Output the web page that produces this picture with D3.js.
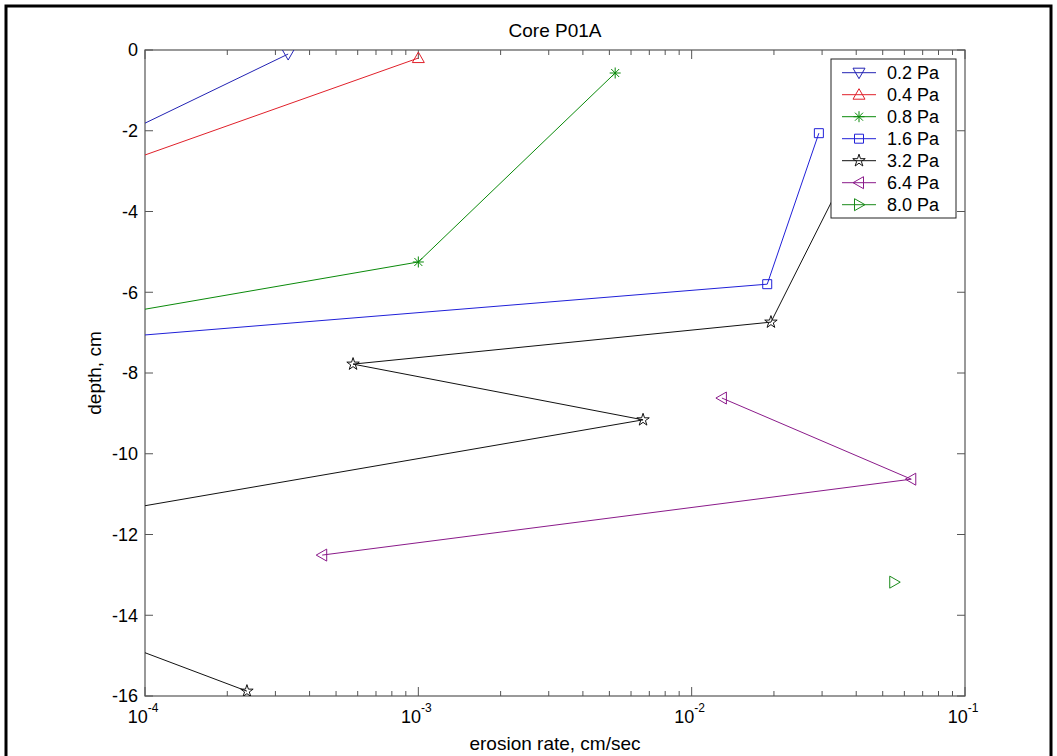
<!DOCTYPE html>
<html>
<head>
<meta charset="utf-8">
<script src="https://cdn.jsdelivr.net/npm/d3@7.9.0/dist/d3.min.js"></script>
<style>
  body { margin: 0; background: #fff; }
  svg { display: block; font-family: "Liberation Sans", Arial, sans-serif; }
</style>
</head>
<body>
<svg id="chart" width="1057" height="756"></svg>
<script>
// series (points outside the axes are estimated from the clipped lines)
const pressures = ["0.2 Pa", "0.4 Pa", "0.8 Pa", "1.6 Pa", "3.2 Pa", "6.4 Pa", "8.0 Pa"];
const colors = ["#2323b4", "#e0202a", "#0a8a0a", "#2020d8", "#111111", "#8a1a8a", "#1a8a1a"];
const symbols = ["tridown", "triup", "asterisk", "square", "star", "trileft", "triright"];

const rate02 = [3.34e-4, 1e-5];
const depth02 = [-0.1, -5.08];
const rate04 = [1e-3, 1e-5];
const depth04 = [-0.2, -5.0];
const rate08 = [5.25e-3, 1e-3, 1e-5];
const depth08 = [-0.57, -5.25, -7.59];
const rate16 = [0.0292, 0.0189, 1e-5];
const depth16 = [-2.06, -5.8, -7.61];
const rate32 = [0.037, 0.0195, 5.77e-4, 6.64e-3, 1.05e-5, 2.36e-4];
const depth32 = [-3.0, -6.74, -7.78, -9.16, -12.43, -15.88];
const rate64 = [0.0129, 0.0636, 4.45e-4];
const depth64 = [-8.62, -10.63, -12.51];
const rate80 = [0.0551];
const depth80 = [-13.18];

const rates = [rate02, rate04, rate08, rate16, rate32, rate64, rate80];
const depths = [depth02, depth04, depth08, depth16, depth32, depth64, depth80];

const xDecades = [1e-4, 1e-3, 1e-2, 1e-1];
const xDecadeExp = ["-4", "-3", "-2", "-1"];
const yTicks = [0, -2, -4, -6, -8, -10, -12, -14, -16];

const svg = d3.select("#chart");
const plotLeft = 145, plotRight = 965, plotTop = 50, plotBottom = 696;

const x = d3.scaleLog().domain([1e-4, 1e-1]).range([plotLeft, plotRight]);
const y = d3.scaleLinear().domain([-16, 0]).range([plotBottom, plotTop]);

// outer frame
svg.append("rect")
  .attr("x", 6).attr("y", 6).attr("width", 1045).attr("height", 770)
  .attr("fill", "none").attr("stroke", "#000").attr("stroke-width", 3);

svg.append("defs").append("clipPath").attr("id", "plotClip")
  .append("rect").attr("x", plotLeft).attr("y", plotTop)
  .attr("width", plotRight - plotLeft).attr("height", plotBottom - plotTop);

const axisColor = "#555";

// box
svg.append("rect")
  .attr("x", plotLeft).attr("y", plotTop)
  .attr("width", plotRight - plotLeft).attr("height", plotBottom - plotTop)
  .attr("fill", "none").attr("stroke", axisColor).attr("stroke-width", 1.2);

// x ticks (major + minor), bottom and top
const minor = [];
for (let d = 0; d < 3; d++) {
  for (let k = 2; k <= 9; k++) minor.push(xDecades[d] * k);
}
const tickG = svg.append("g").attr("stroke", axisColor).attr("stroke-width", 1);
xDecades.forEach(v => {
  tickG.append("line").attr("x1", x(v)).attr("x2", x(v)).attr("y1", plotBottom).attr("y2", plotBottom - 9);
  tickG.append("line").attr("x1", x(v)).attr("x2", x(v)).attr("y1", plotTop).attr("y2", plotTop + 9);
});
minor.forEach(v => {
  tickG.append("line").attr("x1", x(v)).attr("x2", x(v)).attr("y1", plotBottom).attr("y2", plotBottom - 5);
  tickG.append("line").attr("x1", x(v)).attr("x2", x(v)).attr("y1", plotTop).attr("y2", plotTop + 5);
});
yTicks.forEach(v => {
  tickG.append("line").attr("x1", plotLeft).attr("x2", plotLeft + 8).attr("y1", y(v)).attr("y2", y(v));
  tickG.append("line").attr("x1", plotRight).attr("x2", plotRight - 8).attr("y1", y(v)).attr("y2", y(v));
});

// x tick labels 10^n
xDecades.forEach((v, i) => {
  const t = svg.append("text")
    .attr("x", x(v) - 2).attr("y", 723)
    .attr("text-anchor", "middle").attr("font-size", 18).attr("fill", "#000");
  t.append("tspan").text("10");
  t.append("tspan").attr("dy", -11).attr("font-size", 12).text(xDecadeExp[i]);
});

// y tick labels
yTicks.forEach(v => {
  svg.append("text")
    .attr("x", plotLeft - 7).attr("y", y(v)).attr("dy", "0.35em")
    .attr("text-anchor", "end").attr("font-size", 18).attr("fill", "#000")
    .text(v);
});

// title and axis labels
svg.append("text").attr("x", (plotLeft + plotRight) / 2).attr("y", 37)
  .attr("text-anchor", "middle").attr("font-size", 19).text("Core P01A");
svg.append("text").attr("x", (plotLeft + plotRight) / 2).attr("y", 750)
  .attr("text-anchor", "middle").attr("font-size", 19).text("erosion rate, cm/sec");
svg.append("text")
  .attr("transform", `translate(101,${(plotTop + plotBottom) / 2}) rotate(-90)`)
  .attr("text-anchor", "middle").attr("font-size", 19).text("depth, cm");

// marker shapes
function markerPath(kind) {
  switch (kind) {
    case "tridown": return "M-6,-4.5L6,-4.5L0,6Z";
    case "triup": return "M-6,4.5L6,4.5L0,-6Z";
    case "trileft": return "M4.5,-6L4.5,6L-6,0Z";
    case "triright": return "M-4.5,-6L-4.5,6L6,0Z";
    case "square": return "M-4.5,-4.5H4.5V4.5H-4.5Z";
    case "asterisk": return "M-5.5,0H5.5M0,-5.5V5.5M-4,-4L4,4M-4,4L4,-4";
    case "star": return d3.symbol().type(d3.symbolStar).size(48)();
  }
}

const plot = svg.append("g").attr("clip-path", "url(#plotClip)");
const line = d3.line().x(d => x(d[0])).y(d => y(d[1]));

pressures.forEach((p, i) => {
  const pts = rates[i].map((r, j) => [r, depths[i][j]]);
  if (pts.length > 1) {
    plot.append("path").datum(pts)
      .attr("d", line)
      .attr("fill", "none").attr("stroke", colors[i]).attr("stroke-width", 1);
  }
  plot.selectAll(null).data(pts).enter().append("path")
    .attr("transform", d => `translate(${x(d[0])},${y(d[1])})`)
    .attr("d", markerPath(symbols[i]))
    .attr("fill", "none").attr("stroke", colors[i]).attr("stroke-width", 1);
});

// legend
const lg = svg.append("g");
lg.append("rect").attr("x", 831).attr("y", 59).attr("width", 125).attr("height", 159)
  .attr("fill", "#fff").attr("stroke", "#222").attr("stroke-width", 1);
const legendY = d3.scaleLinear().domain([0, 6]).range([72.7, 204.7]);
pressures.forEach((p, i) => {
  const ly = legendY(i);
  lg.append("line").attr("x1", 842).attr("x2", 876).attr("y1", ly).attr("y2", ly)
    .attr("stroke", colors[i]).attr("stroke-width", 1);
  lg.append("path").attr("transform", `translate(859,${ly})`)
    .attr("d", markerPath(symbols[i]))
    .attr("fill", "none").attr("stroke", colors[i]).attr("stroke-width", 1);
  lg.append("text").attr("x", 887).attr("y", ly).attr("dy", "0.36em")
    .attr("font-size", 18).attr("fill", "#000").text(p);
});
</script>
</body>
</html>
